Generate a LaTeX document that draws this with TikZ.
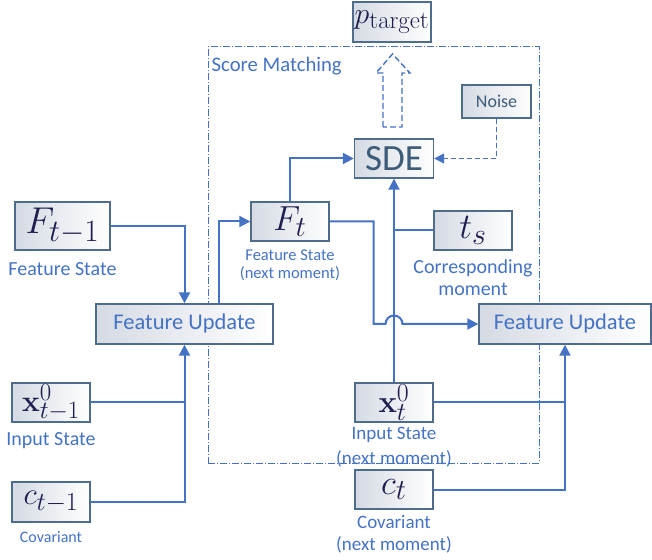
\documentclass[tikz,border=0pt]{standalone}
\usepackage[no-math]{fontspec}
\setmainfont{Carlito}
\usepackage{graphicx}
\usepackage{tikz}
\usetikzlibrary {
  positioning,
  calc,
  arrows.meta,
}
\definecolor{lineblue}{HTML}{4472C4}
\definecolor{boxedge}{HTML}{4E6D8C}
\definecolor{boxshade}{HTML}{D5DAE3}
\definecolor{mathink}{HTML}{1E1E50}
\definecolor{slateink}{HTML}{3D5C7A}
\newcommand{\sym}[2][1.3]{\scalebox{#1}{$#2$}}
\tikzset{
  state/.style = {
    rectangle,
    draw = boxedge,
    line width = 1.4pt,
    left color = boxshade,
    right color = white,
    minimum width = 78pt,
    minimum height = 39pt,
    inner sep = 0pt,
    text = mathink,
    font = \fontsize{24.88}{24.88}\selectfont
  },
  update/.style = {
    state,
    minimum width = 175pt,
    minimum height = 40pt,
    text = lineblue,
    font = \fontsize{22.5}{22.5}\selectfont
  },
  caption/.style = {
    inner sep = 0pt,
    align = center,
    text = lineblue
  },
  scorebox/.style = {
    draw = lineblue,
    line width = 1pt,
    dash pattern = on 7pt off 2pt on 1pt off 2pt
  },
  line/.style = {
    -{Triangle[length = 11pt, width = 11pt]},
    line width = 2pt,
    draw = lineblue
  },
  link/.style = {
    line width = 2pt,
    draw = lineblue
  },
  noiseline/.style = {
    -{Triangle[length = 10pt, width = 10pt]},
    line width = 1.4pt,
    draw = lineblue,
    dash pattern = on 5pt off 3pt
  },
  hollow/.style = {
    draw = lineblue,
    fill = white,
    line width = 1.4pt,
    dash pattern = on 6pt off 3pt
  },
}

\begin{document}
\begin{tikzpicture}[x = 1pt, y = 1pt]
  \useasboundingbox (0,0) rectangle (652,559);
  % score matching frame
  \node[scorebox, minimum width = 331pt, minimum height = 416pt] (SM) at (373.5,304) {};
  \node[caption, anchor = north west, font = \fontsize{20.7}{20.7}\selectfont]
    (SMtext) at ($(SM.north west) + (4,-10)$) {Score Matching};
  % boxes
  \node[state, minimum height = 40pt] (P) at (392,537) {\sym[1.2]{p_{\mathrm{target}}}};
  \node[state, minimum width = 79pt, text = slateink,
    font = \fontsize{37}{37}\selectfont] (SDE) at (394,400.5) {SDE};
  \node[state, minimum width = 69pt, minimum height = 33pt, text = slateink,
    font = \fontsize{18}{18}\selectfont] (Noise) at (496.5,457.5) {Noise};
  \node[state, minimum width = 95pt, minimum height = 48pt] (Ft1) at (62.5,333) {\sym[1.5]{F_{t-1}}};
  \node[state] (Ft) at (290,337.5) {\sym[1.4]{F_t}};
  \node[state] (ts) at (473,328.5) {\sym[1.45]{t_s}};
  \node[update, minimum width = 177pt] (FUleft) at (184.5,235) {Feature Update};
  \node[update, minimum width = 172pt] (FUright) at (565,235) {Feature Update};
  \node[state] (xt1) at (51,156.5) {\sym[1.2]{\mathbf{x}_{t-1}^{0}}};
  \node[state, minimum height = 40pt] (ct1) at (51,57) {\sym[1.25]{c_{t-1}}};
  \node[state] (xt) at (394,156.5) {\sym[1.25]{\mathbf{x}_{t}^{0}}};
  \node[state] (ct) at (394,69.5) {\sym[1.4]{c_t}};
  % captions
  \node[caption, below = 12pt of Ft1, font = \fontsize{20}{20}\selectfont] (Ft1cap) {Feature State};
  \node[caption, below = 8pt of Ft, font = \fontsize{16.5}{18}\selectfont] (Ftcap)
    {Feature State\\(next moment)};
  \node[caption, below = 9pt of ts, font = \fontsize{20}{22}\selectfont] (tscap)
    {Corresponding\\moment};
  \node[caption, below = 10pt of xt1, font = \fontsize{20}{20}\selectfont] (xt1cap) {Input State};
  \node[caption, below = 9pt of ct1, font = \fontsize{16}{16}\selectfont] (ct1cap) {Covariant};
  \node[caption, below = 4pt of xt, font = \fontsize{19}{25}\selectfont] (xtcap)
    {Input State\\(next moment)};
  \node[caption, below = 6pt of ct, font = \fontsize{19}{22}\selectfont] (ctcap)
    {Covariant\\(next moment)};
  % hollow output arrow
  \draw[hollow] (383,432) -- (383,486) -- (376,486) -- (392.5,505) -- (410,486)
    -- (402,486) -- (402,432) -- cycle;
  % connectors
  \coordinate (FUout) at ($(FUleft.north west) + (124,0)$);
  \draw[line] (Ft1.east) -| (FUleft.north);
  \draw[line] (FUout) |- (Ft.west);
  \draw[line] (Ft.north) |- (SDE.west);
  \draw[line] (xt.north) -- (SDE.south);
  \draw[link] (ts.west) -- (ts.west -| SDE.south);
  \draw[noiseline] (Noise.south) |- (SDE.east);
  \draw[link] (xt1.east) -- (xt1.east -| FUleft.south);
  \draw[line] (ct1.east) -| (FUleft.south);
  \draw[link] (xt.east) -- (xt.east -| FUright.south);
  \draw[line] (ct.east) -| (FUright.south);
  \draw[line] (Ft.east) -- ++(44,0) |- ($(xt.north |- FUright.west) + (-8.5,0)$)
    arc[start angle = 180, end angle = 0, radius = 8.5] -- (FUright.west);
\end{tikzpicture}
\end{document}
